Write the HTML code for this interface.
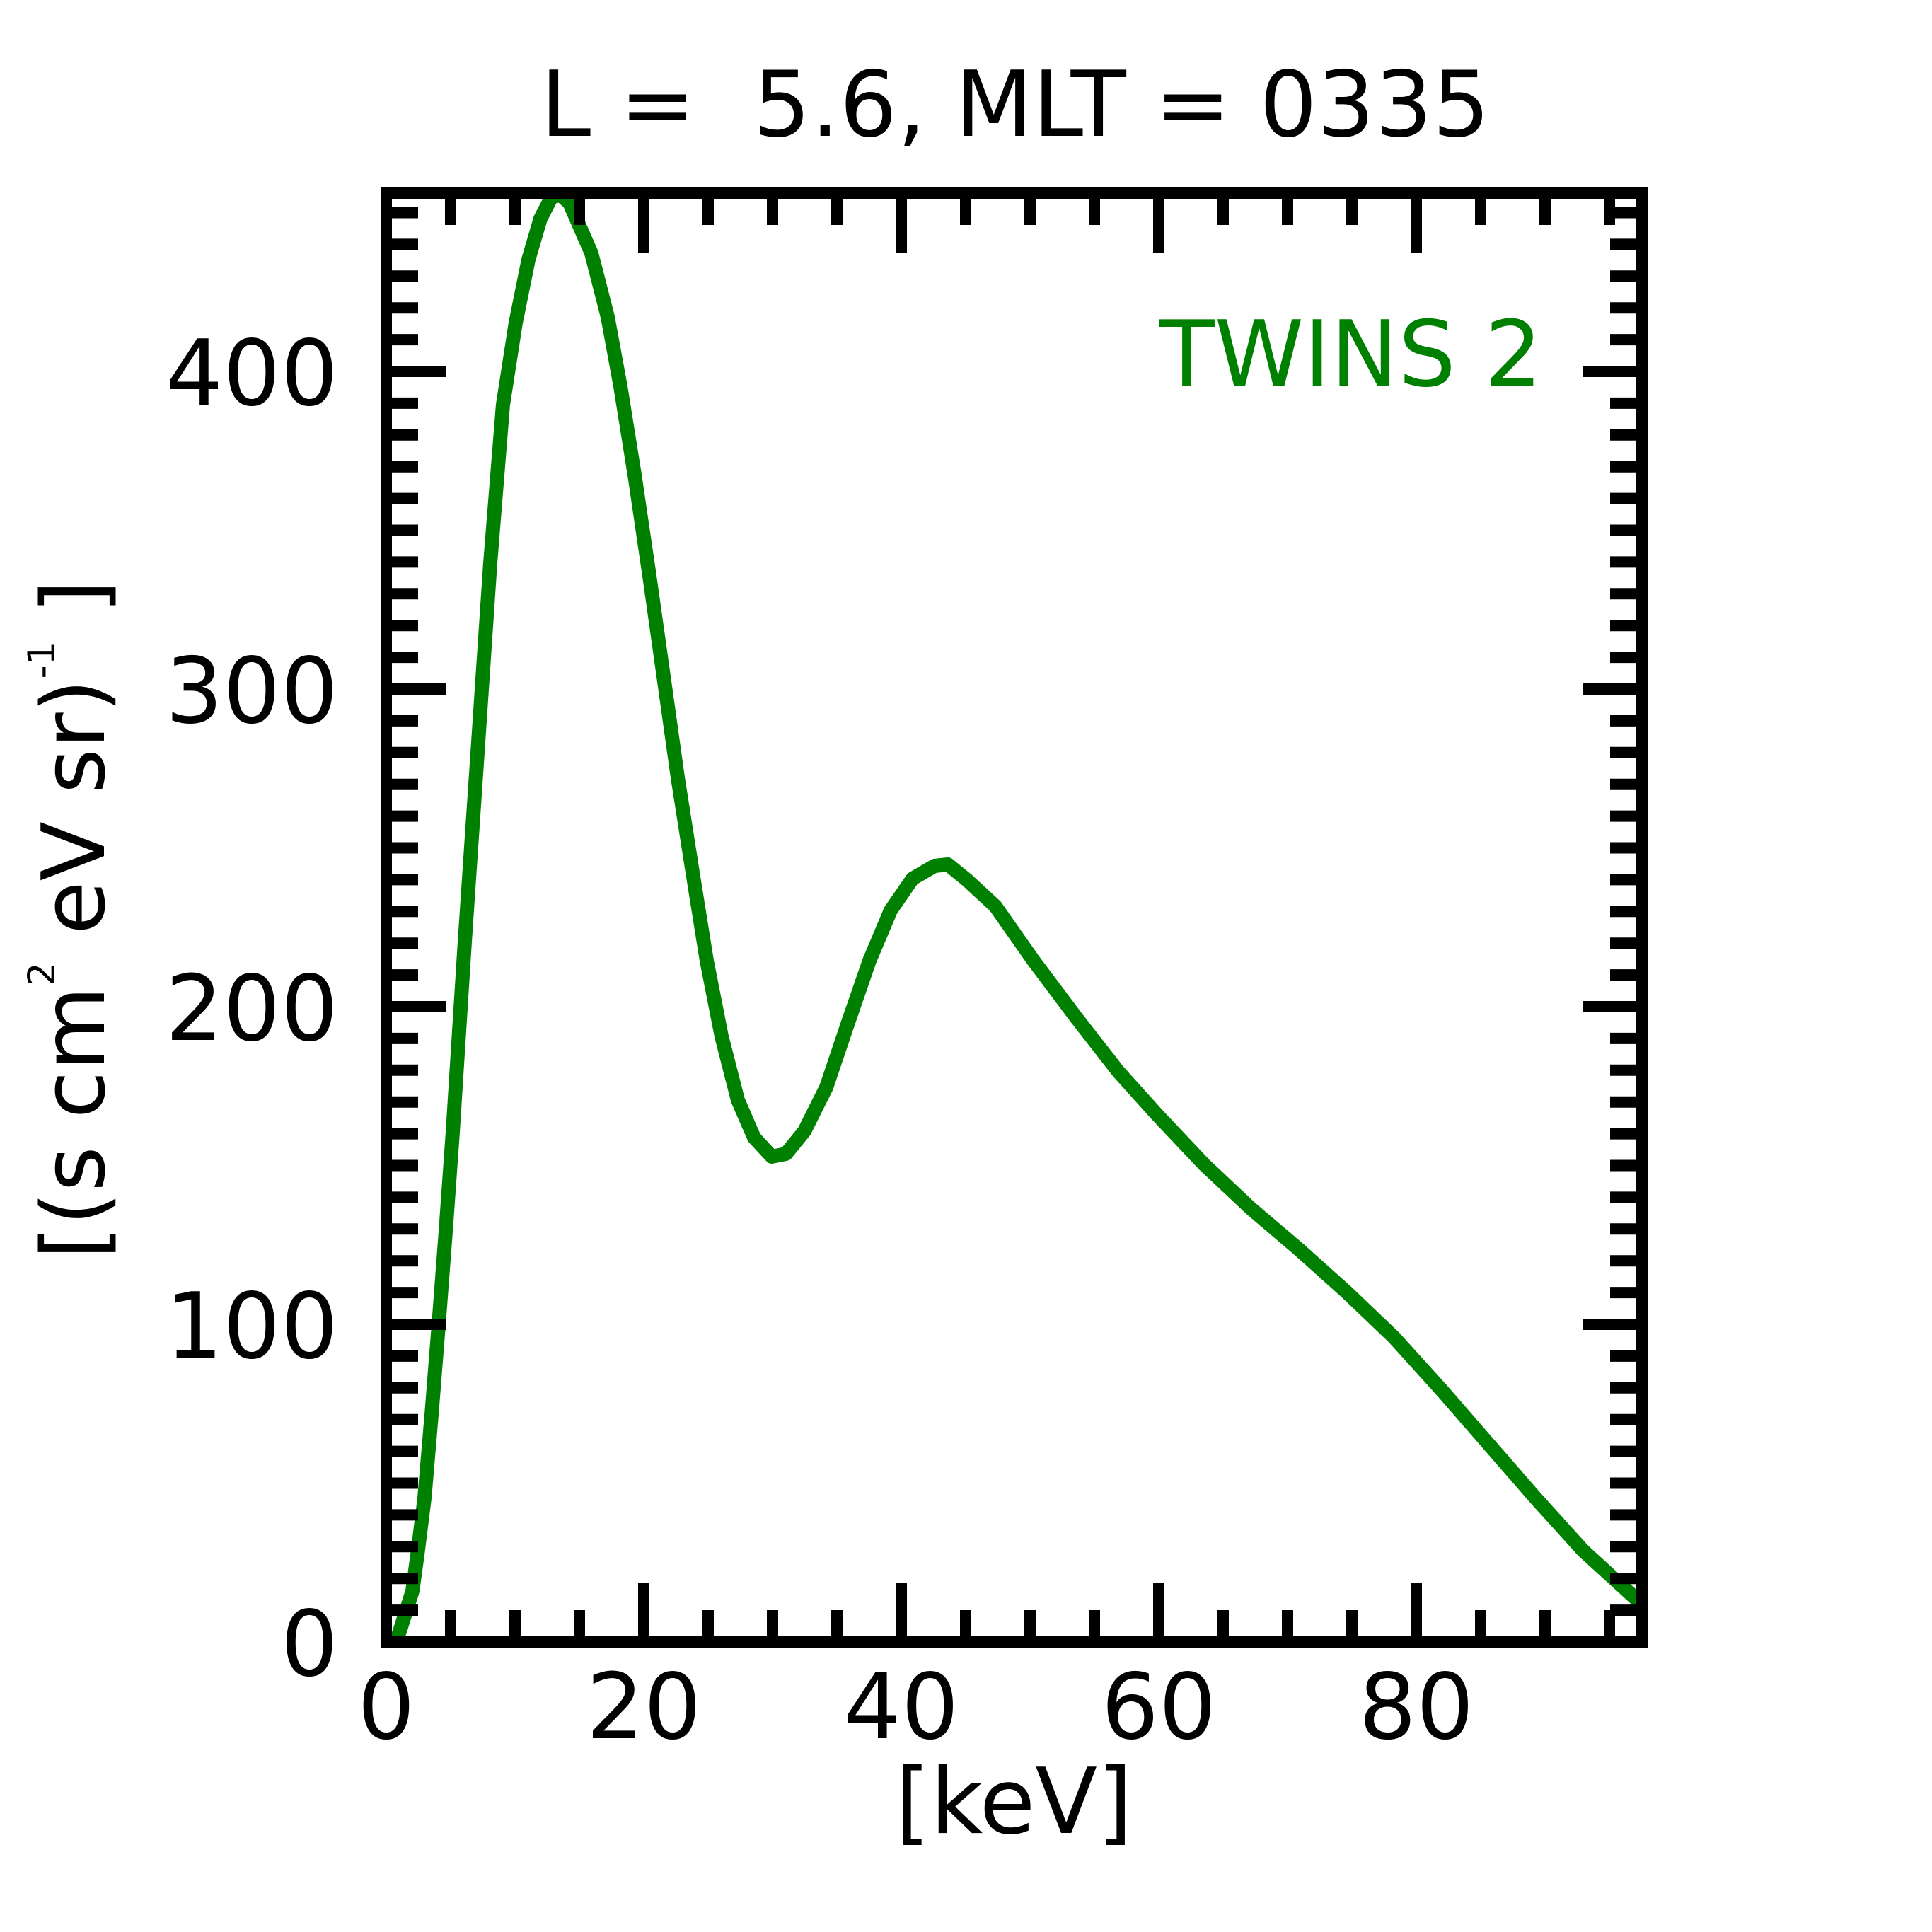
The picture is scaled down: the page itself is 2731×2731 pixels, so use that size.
<!DOCTYPE html>
<html><head><meta charset="utf-8"><style>html,body{margin:0;padding:0;background:#fff}svg{display:block}</style></head>
<body>
<svg xmlns="http://www.w3.org/2000/svg" width="2731" height="2731" viewBox="0 0 2731 2731" font-family="'DejaVu Sans','Liberation Sans',sans-serif">
<rect width="2731" height="2731" fill="#fff"/>
<defs><clipPath id="c"><rect x="554" y="281" width="1759" height="2032"/></clipPath></defs>
<polyline clip-path="url(#c)" fill="none" stroke="#008000" stroke-width="20" stroke-linejoin="round" points="558,2325 565,2306 583,2249 590,2198 600,2118 610,2000 620,1873 630,1741 640,1600 657,1331 675,1064 693,796 711,572 729,456 747,367 764,309 780,278 793,276 805,287 836,358 859,448 877,546 897,671 918,814 938,956 958,1099 979,1233 999,1358 1020,1465 1043,1555 1066,1608 1091,1635 1111,1631 1137,1599 1168,1537 1198,1448 1229,1358 1259,1287 1290,1242 1321,1224 1340,1222 1367,1244 1407,1281 1461,1358 1521,1438 1581,1515 1635,1575 1702,1646 1769,1709 1836,1766 1903,1826 1970,1890 2037,1964 2104,2041 2171,2118 2238,2192 2330,2276"/>
<g stroke="#000" stroke-width="16" fill="none">
<rect x="546" y="273" width="1775" height="2048"/>
</g>
<g id="ticks" stroke="#000" stroke-width="16"></g>
<script>
(function(){var g=document.getElementById('ticks'),ns='http://www.w3.org/2000/svg';function L(a,b,c,d){var l=document.createElementNS(ns,'line');l.setAttribute('x1',a);l.setAttribute('y1',b);l.setAttribute('x2',c);l.setAttribute('y2',d);g.appendChild(l);}
for(var k=1;k<=19;k++){var x=546+91*k,m=(k%4==0);L(x,273,x,273+(m?84:45));L(x,2321,x,2321-(m?84:45));}
for(var k=1;k<=45;k++){var y=2321-44.9*k,m=(k%10==0);L(546,y,546+(m?84:45),y);L(2321,y,2321-(m?84:45),y);}})();
</script>
<g font-size="128" fill="#000">
<text x="1435" y="192" text-anchor="middle" font-size="128" xml:space="preserve">L =  5.6, MLT = 0335</text>
<text x="478" y="2368" text-anchor="end">0</text>
<text x="478" y="1919" text-anchor="end">100</text>
<text x="478" y="1470" text-anchor="end">200</text>
<text x="478" y="1021" text-anchor="end">300</text>
<text x="478" y="572" text-anchor="end">400</text>
<text x="546" y="2457" text-anchor="middle">0</text>
<text x="910" y="2457" text-anchor="middle">20</text>
<text x="1274" y="2457" text-anchor="middle">40</text>
<text x="1638" y="2457" text-anchor="middle">60</text>
<text x="2002" y="2457" text-anchor="middle">80</text>
<text x="1433" y="2591" text-anchor="middle">[keV]</text>
<text x="2180" y="545" text-anchor="end" fill="#008000">TWINS 2</text>
<text transform="translate(147,1300) rotate(-90)" text-anchor="middle" font-size="123" xml:space="preserve">[(s cm<tspan font-size="53" dy="-70">2</tspan><tspan dy="70"> eV sr)</tspan><tspan font-size="53" dy="-70">-1</tspan><tspan dy="70"> ]</tspan></text>
</g>
</svg>
</body></html>
